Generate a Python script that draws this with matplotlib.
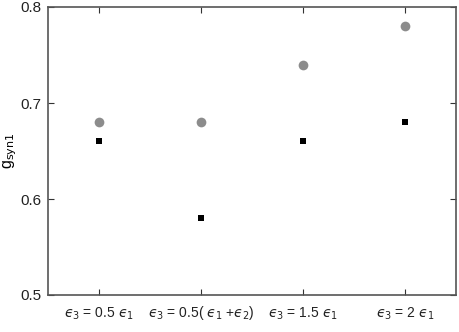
import matplotlib
matplotlib.use("Agg")
import matplotlib.pyplot as plt

# 데이터
conditions = ["$\u03f5_3$ = 0.5 $\u03f5_1$",
              "$\u03f5_3$ = 0.5( $\u03f5_1$ +$\u03f5_2$)",
              "$\u03f5_3$ = 1.5 $\u03f5_1$",
              "$\u03f5_3$ = 2 $\u03f5_1$"]
circle_vals = [0.68, 0.68, 0.74, 0.78]
square_vals = [0.66, 0.58, 0.66, 0.68]
yticks = [0.5, 0.6, 0.7, 0.8]

plt.rcParams['font.family'] = ['Liberation Sans', 'DejaVu Sans']
plt.rcParams['mathtext.fontset'] = 'dejavusans'

fig = plt.figure(figsize=(4.59, 3.32), dpi=100)
ax = fig.add_axes([48 / 459, 37 / 332, 408 / 459, 288 / 332])

x = list(range(1, len(conditions) + 1))
ax.plot(x, circle_vals, "o", color="#8c8c8c", markersize=7, markeredgewidth=0)
ax.plot(x, square_vals, "s", color="black", markersize=5, markeredgewidth=0)

ax.set_xlim(0.5, 4.5)
ax.set_ylim(0.5, 0.8)
ax.set_xticks(x)
ax.set_xticklabels(conditions, fontsize=10, va="baseline")
ax.set_yticks(yticks)
ax.set_yticklabels([f"{v:.1f}" for v in yticks], fontsize=11)
ax.set_ylabel(r"g$_{\mathrm{syn1}}$", fontsize=11.5)
ax.yaxis.set_label_coords(-0.072, 0.5)

for s in ax.spines.values():
    s.set_color("#555555")
    s.set_linewidth(1.2)
ax.tick_params(direction="in", top=True, right=True, length=4, color="#333333",
               labelcolor="#222222")
ax.tick_params(axis="y", pad=5)
ax.tick_params(axis="x", pad=16)

fig.savefig("out.png", dpi=100)
